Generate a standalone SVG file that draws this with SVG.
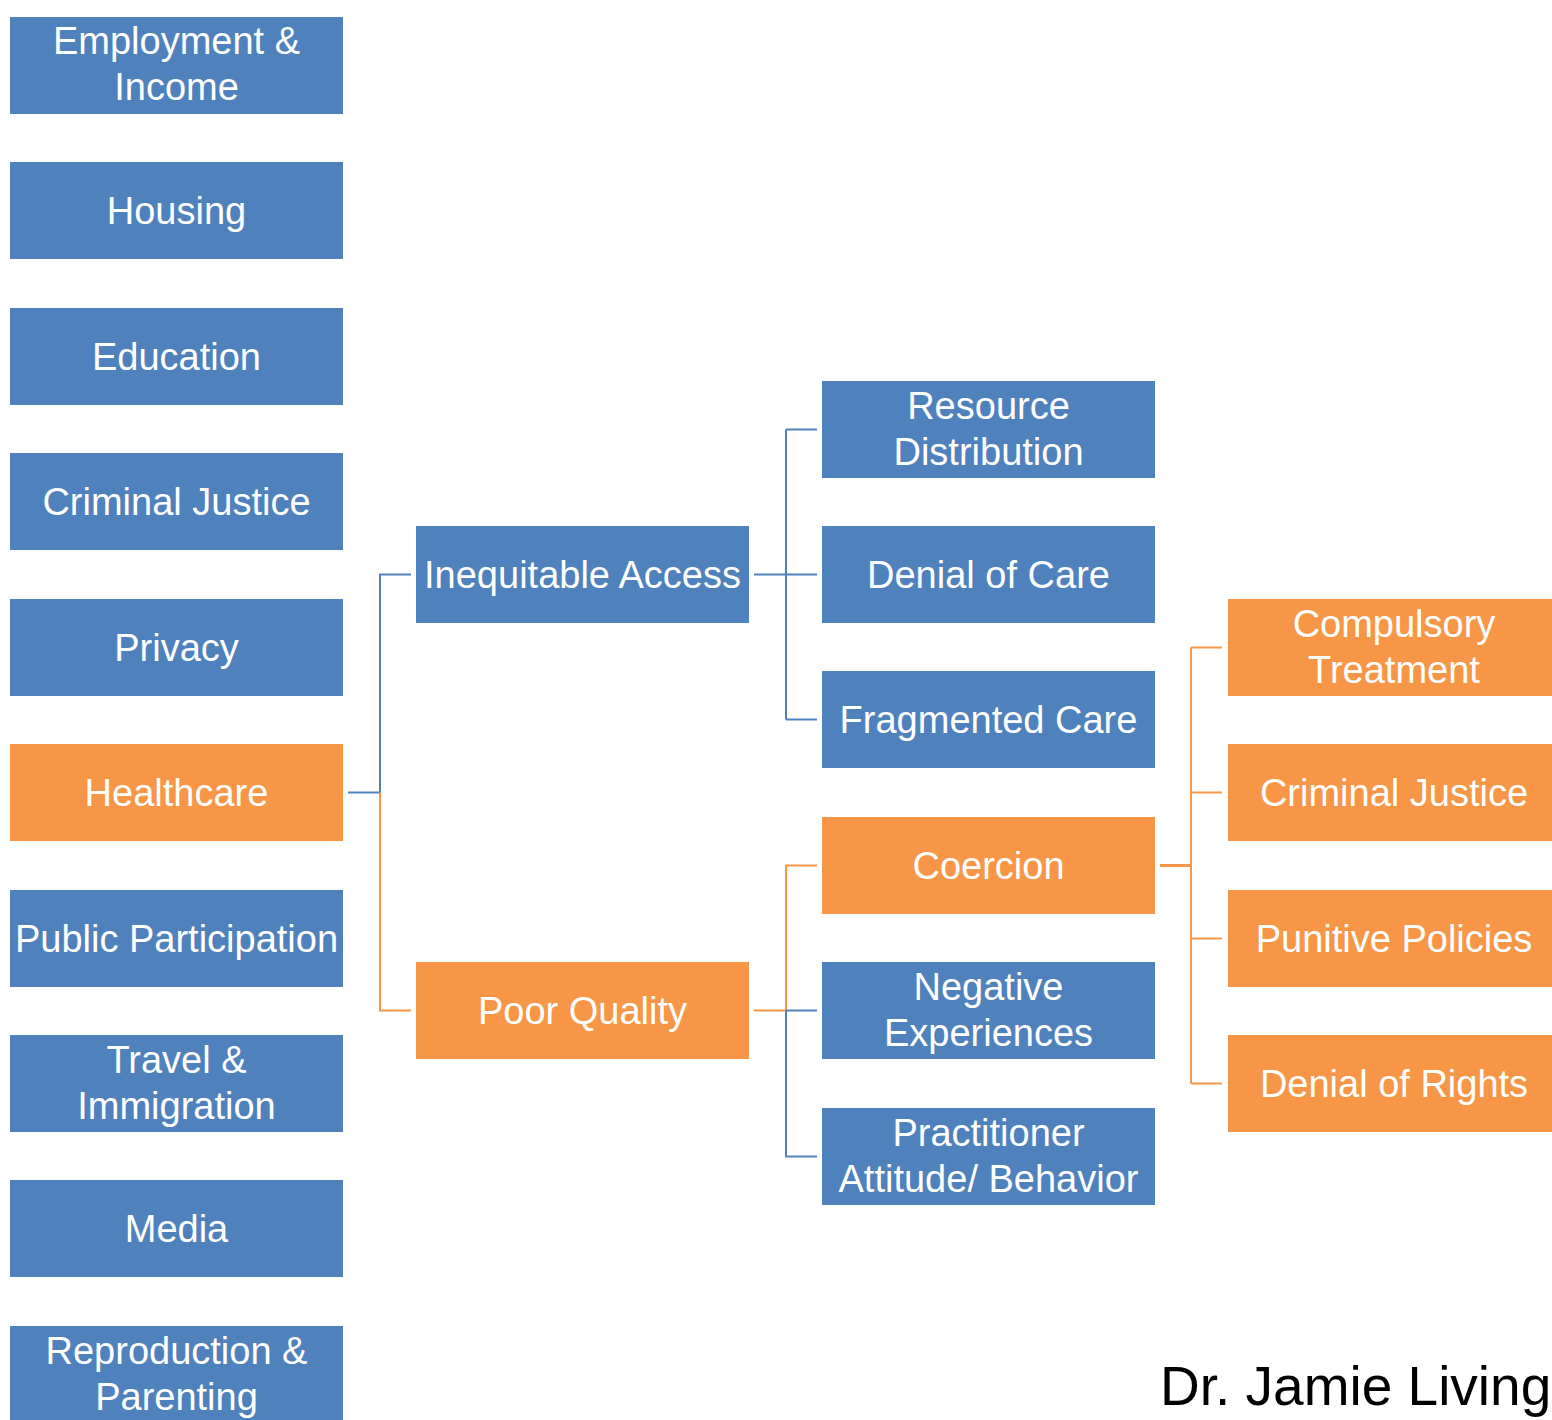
<svg xmlns="http://www.w3.org/2000/svg" width="1552" height="1420" viewBox="0 0 1552 1420">
<style>
.b{fill:#4F81BD}
.o{fill:#F79646}
.t{font-family:"Liberation Sans",Arial,sans-serif;font-size:38px;fill:#FFFFFF;text-anchor:middle}
.cb{stroke:#4F81BD;stroke-width:2;fill:none}
.co{stroke:#F79646;stroke-width:2;fill:none}
</style>
<rect width="1552" height="1420" fill="#FFFFFF"/>
<g id="connectors">
<path class="cb" d="M348 792.5H380V574.5H411"/>
<path class="co" d="M380 792.5V1010.5H411"/>
<path class="cb" d="M754 574.5H817M786 429.5V719.5M786 429.5H817M786 719.5H817"/>
<path class="co" d="M754 1010.5H786V865.5H817"/>
<path class="cb" d="M786 1010.5H817M786 1010.5V1156.5H817"/>
<path class="co" d="M1160 865.5H1191" style="stroke-width:3"/>
<path class="co" d="M1191 647.5V1083.5M1191 647.5H1222M1191 792.5H1222M1191 938.5H1222M1191 1083.5H1222"/>
</g>
<g id="n-employment"><rect class="b" x="10" y="17" width="333" height="97"/><text class="t" x="176.5" y="54">Employment &amp;</text><text class="t" x="176.5" y="100">Income</text></g>
<g id="n-housing"><rect class="b" x="10" y="162" width="333" height="97"/><text class="t" x="176.5" y="224">Housing</text></g>
<g id="n-education"><rect class="b" x="10" y="308" width="333" height="97"/><text class="t" x="176.5" y="370">Education</text></g>
<g id="n-criminal1"><rect class="b" x="10" y="453" width="333" height="97"/><text class="t" x="176.5" y="515">Criminal Justice</text></g>
<g id="n-privacy"><rect class="b" x="10" y="599" width="333" height="97"/><text class="t" x="176.5" y="661">Privacy</text></g>
<g id="n-healthcare"><rect class="o" x="10" y="744" width="333" height="97"/><text class="t" x="176.5" y="806">Healthcare</text></g>
<g id="n-public"><rect class="b" x="10" y="890" width="333" height="97"/><text class="t" x="176.5" y="952">Public Participation</text></g>
<g id="n-travel"><rect class="b" x="10" y="1035" width="333" height="97"/><text class="t" x="176.5" y="1073">Travel &amp;</text><text class="t" x="176.5" y="1119">Immigration</text></g>
<g id="n-media"><rect class="b" x="10" y="1180" width="333" height="97"/><text class="t" x="176.5" y="1242">Media</text></g>
<g id="n-reproduction"><rect class="b" x="10" y="1326" width="333" height="97"/><text class="t" x="176.5" y="1364">Reproduction &amp;</text><text class="t" x="176.5" y="1410">Parenting</text></g>
<g id="n-inequitable"><rect class="b" x="416" y="526" width="333" height="97"/><text class="t" x="582.5" y="588">Inequitable Access</text></g>
<g id="n-poor"><rect class="o" x="416" y="962" width="333" height="97"/><text class="t" x="582.5" y="1024">Poor Quality</text></g>
<g id="n-resource"><rect class="b" x="822" y="381" width="333" height="97"/><text class="t" x="988.5" y="419">Resource</text><text class="t" x="988.5" y="465">Distribution</text></g>
<g id="n-denialcare"><rect class="b" x="822" y="526" width="333" height="97"/><text class="t" x="988.5" y="588">Denial of Care</text></g>
<g id="n-fragmented"><rect class="b" x="822" y="671" width="333" height="97"/><text class="t" x="988.5" y="733">Fragmented Care</text></g>
<g id="n-coercion"><rect class="o" x="822" y="817" width="333" height="97"/><text class="t" x="988.5" y="879">Coercion</text></g>
<g id="n-negative"><rect class="b" x="822" y="962" width="333" height="97"/><text class="t" x="988.5" y="1000">Negative</text><text class="t" x="988.5" y="1046">Experiences</text></g>
<g id="n-practitioner"><rect class="b" x="822" y="1108" width="333" height="97"/><text class="t" x="988.5" y="1146">Practitioner</text><text class="t" x="988.5" y="1192">Attitude/ Behavior</text></g>
<g id="n-compulsory"><rect class="o" x="1228" y="599" width="324" height="97"/><text class="t" x="1394" y="637">Compulsory</text><text class="t" x="1394" y="683">Treatment</text></g>
<g id="n-criminal2"><rect class="o" x="1228" y="744" width="324" height="97"/><text class="t" x="1394" y="806">Criminal Justice</text></g>
<g id="n-punitive"><rect class="o" x="1228" y="890" width="324" height="97"/><text class="t" x="1394" y="952">Punitive Policies</text></g>
<g id="n-denialrights"><rect class="o" x="1228" y="1035" width="324" height="97"/><text class="t" x="1394" y="1097">Denial of Rights</text></g>
<text x="1160" y="1405" font-family="'Liberation Sans',Arial,sans-serif" font-size="55" fill="#000000">Dr. Jamie Living</text>
</svg>
